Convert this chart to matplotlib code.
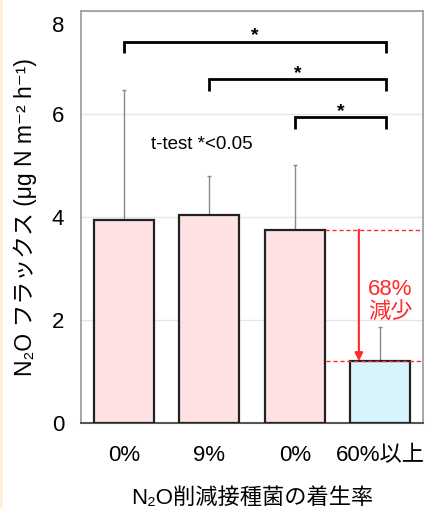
import matplotlib
matplotlib.use("Agg")
import matplotlib.pyplot as plt
from matplotlib.patches import Rectangle
import matplotlib.transforms as mtransforms

plt.rcParams['font.family'] = ['Liberation Sans', 'Noto Sans CJK JP', 'DejaVu Sans']

# Data
categories = ["0%", "9%", "0%", "60%以上"]
flux_mean = [3.93, 4.03, 3.75, 1.20]
flux_err = [2.54, 0.76, 1.25, 0.67]
bar_colors = ["#fde1e3", "#fde1e3", "#fde1e3", "#d7f4fc"]
yticks = [0, 2, 4, 6, 8]
# significance brackets: (left index, right end, bracket height, star label)
brackets = [(0, 3.07, 7.40, "*"), (1, 3.07, 6.67, "*"), (2, 3.07, 5.93, "*")]
reduction_label = "68%\n減少"

fig = plt.figure(figsize=(4.37, 5.08), dpi=100)
fig.patch.set_facecolor("white")
# thin cream strip at the left edge
fig.patches.append(Rectangle((0, 0), 2.5 / 437, 1, transform=fig.transFigure,
                             facecolor="#fdf1d6", edgecolor="none", zorder=0))

ax = fig.add_axes([81 / 437, 1 - 423 / 508, 342 / 437, 412.3 / 508])
x = list(range(len(categories)))

ax.bar(x, flux_mean, width=0.7, color=bar_colors, edgecolor="#222222",
       linewidth=1.6, zorder=3)
ax.errorbar(x, flux_mean, yerr=[[0] * len(flux_err), flux_err], fmt="none",
            ecolor="#8a8a8a", elinewidth=1.0, capsize=1.5, capthick=1.0, zorder=2)

ax.set_xlim(-0.5, 3.5)
ax.set_ylim(0, 8)
ax.set_yticks(yticks)
ax.set_yticklabels([str(t) for t in yticks], fontsize=16)
ax.set_xticks(x)
ax.set_xticklabels(categories, fontsize=16)
ax.tick_params(axis="both", length=0)
ax.tick_params(axis="y", pad=12)
ax.tick_params(axis="x", pad=16)
# nudge the top label down inside the frame
top_lab = ax.get_yticklabels()[-1]
top_lab.set_transform(top_lab.get_transform() +
                      mtransforms.ScaledTranslation(0, -13 / 100, fig.dpi_scale_trans))

ax.grid(axis="y", color="#e6e6e6", linewidth=1.0, zorder=0)
ax.set_axisbelow(True)
for side in ["left", "right", "top"]:
    ax.spines[side].set_color("#9a9a9a")
    ax.spines[side].set_linewidth(1.2)
ax.spines["bottom"].set_color("#555555")
ax.spines["bottom"].set_linewidth(1.5)

ax.set_ylabel("N₂O フラックス (μg N m⁻² h⁻¹)", fontsize=16.5, labelpad=11)
ax.set_xlabel("N₂O削減接種菌の着生率", fontsize=16, labelpad=16)

# significance brackets
drop = 0.23
for xl, xr, h, lab in brackets:
    ax.plot([xl, xl, xr, xr], [h - drop, h, h, h - drop], color="black",
            linewidth=2.0, solid_capstyle="butt", solid_joinstyle="miter", zorder=4)
    ax.text((xl + xr) / 2, h + 0.03, lab, ha="center", va="baseline", fontsize=14,
            fontweight="bold")

ax.text(0.91, 5.40, "t-test *<0.05", ha="center", va="center", fontsize=13.5)

# reduction annotation
red = "#ff2a2a"
ax.plot([2.35, 3.5], [flux_mean[2]] * 2, color=red, linestyle=(0, (3, 2)),
        linewidth=1.0, zorder=4)
ax.plot([2.37, 3.5], [flux_mean[3]] * 2, color=red, linestyle=(0, (3, 2)),
        linewidth=1.0, zorder=4)
ax.annotate("", xy=(2.75, flux_mean[3]), xytext=(2.75, flux_mean[2]),
            arrowprops=dict(arrowstyle="-|>", color=red, lw=1.5,
                            mutation_scale=12, shrinkA=0, shrinkB=0), zorder=5)
ax.text(3.12, 2.37, reduction_label, ha="center", va="center", fontsize=16,
        color=red, linespacing=1.1, zorder=5)

fig.savefig("out.png", dpi=100)
